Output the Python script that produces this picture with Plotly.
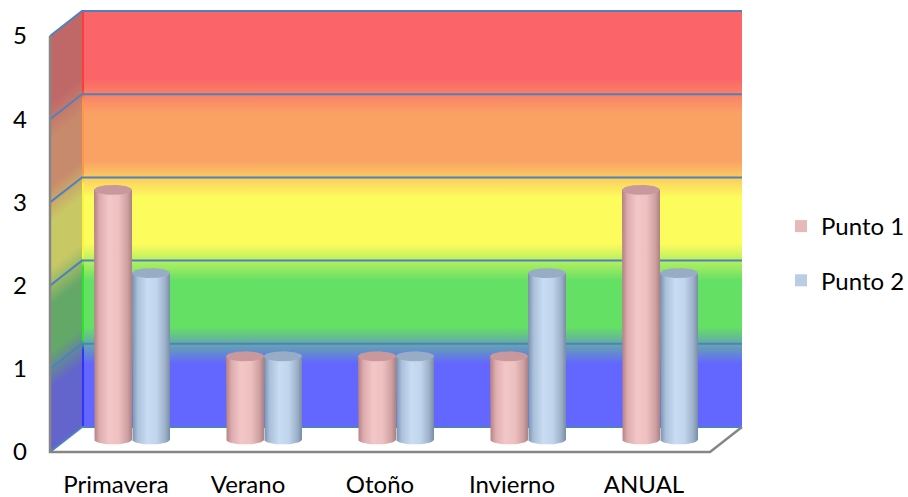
import numpy as np
import plotly.graph_objects as go

# ---- data -------------------------------------------------------------
categorias = ["Primavera", "Verano", "Otoño", "Invierno", "ANUAL"]
punto1 = [3, 1, 1, 1, 3]
punto2 = [2, 1, 1, 2, 2]
niveles = [0, 1, 2, 3, 4, 5]
series = ["Punto 1", "Punto 2"]

# ---- styles -----------------------------------------------------------
colores_fondo = ["rgb(99,102,255)", "rgb(100,224,100)", "rgb(252,252,92)",
                 "rgb(250,162,100)", "rgb(251,100,104)"]
colores_lateral = ["rgb(100,100,205)", "rgb(100,168,104)", "rgb(200,200,100)",
                   "rgb(200,138,108)", "rgb(192,104,104)"]
colores_borde = ["rgb(50,50,255)", "rgb(40,230,40)", "rgb(250,245,60)",
                 "rgb(255,150,70)", "rgb(255,60,60)"]
escala_cil = [
    [(0, "rgb(178,128,132)"), (0.15, "rgb(222,172,175)"), (0.4, "rgb(243,199,199)"),
     (0.65, "rgb(238,192,192)"), (0.88, "rgb(206,160,162)"), (1, "rgb(172,128,130)")],
    [(0, "rgb(122,142,168)"), (0.15, "rgb(170,192,218)"), (0.4, "rgb(200,220,243)"),
     (0.65, "rgb(192,212,236)"), (0.88, "rgb(155,175,200)"), (1, "rgb(120,140,165)")],
]
color_tapa = ["rgb(200,152,156)", "rgb(152,172,198)"]
color_leyenda = ["rgb(230,184,183)", "rgb(185,205,229)"]
AZUL_REJILLA = "rgb(79,129,189)"
GRIS = "rgb(134,134,134)"
FUENTE = dict(family="Lato, Carlito, Calibri, sans-serif", size=24, color="black")

# ---- page geometry (pixels) -------------------------------------------
W, H = 908, 497
ML, MB = 28, 29
UX, UY = 132.0, 83.2          # pixels per category / per unit
X0, Y0 = 50.0, 452.0          # front-left-bottom corner
DX, DY = 32.0 / UX, 25.0 / UY  # depth offset in data units
n = len(categorias)
vmax = niveles[-1]

x_rango = [-0.5 + (ML - X0) / UX, -0.5 + (W - X0) / UX]
y_rango = [(Y0 - (H - MB)) / UY, Y0 / UY]


def escala(cols, lo=0.24, hi=0.2):
    k = len(cols)
    out = []
    for i, c in enumerate(cols):
        a = i + (hi if i > 0 else 0)
        b = i + 1 - (lo if i < k - 1 else 0)
        out.append((a / k, c))
        out.append((b / k, c))
    return out


fig = go.Figure()
comun = dict(mode="lines", hoverinfo="skip", showlegend=False,
             line=dict(width=0, color="rgba(0,0,0,0)"))

# back wall
xl, xr = -0.5 + DX, n - 0.5 + DX
fig.add_trace(go.Scatter(
    x=[xl, xr, xr, xl, xl], y=[DY, DY, vmax + DY, vmax + DY, DY], fill="toself",
    fillgradient=dict(type="vertical", colorscale=escala(colores_fondo),
                      start=DY, stop=vmax + DY), **comun))

# left wall, in thin slanted strips
N = 16
for k in range(N):
    t0, t1 = k / N, (k + 1) / N
    xa, xb = -0.5 + DX * t0, -0.5 + DX * t1 + (0.6 / UX if k < N - 1 else 0)
    oa, ob = DY * t0, DY * t1
    om = (oa + ob) / 2
    fig.add_trace(go.Scatter(
        x=[xa, xb, xb, xa, xa], y=[oa, ob, vmax + ob, vmax + oa, oa], fill="toself",
        fillgradient=dict(type="vertical", colorscale=escala(colores_lateral),
                          start=om, stop=om + vmax), **comun))

# floor
fig.add_trace(go.Scatter(
    x=[-0.5, n - 0.5, n - 0.5 + DX, -0.5 + DX, -0.5], y=[0, 0, DY, DY, 0],
    fill="toself", fillcolor="white", **comun))

# bright edge where the back wall meets the left wall
ew = 2.0 / UX
fig.add_trace(go.Scatter(
    x=[xl, xl + ew, xl + ew, xl, xl], y=[DY, DY, vmax + DY, vmax + DY, DY], fill="toself",
    fillgradient=dict(type="vertical", colorscale=escala(colores_borde, 0.08, 0.05),
                      start=DY, stop=vmax + DY), **comun))

# gridlines on back and side walls
gx, gy = [], []
for v in niveles:
    gx += [-0.5, -0.5 + DX, n - 0.5 + DX, None]
    gy += [v, v + DY, v + DY, None]
fig.add_trace(go.Scatter(x=gx, y=gy, mode="lines", hoverinfo="skip", showlegend=False,
                         line=dict(color=AZUL_REJILLA, width=2)))

# outer frame edges
fig.add_trace(go.Scatter(
    x=[-0.5, -0.5, n - 0.5, n - 0.5 + DX], y=[vmax, 0, 0, DY], mode="lines",
    hoverinfo="skip", showlegend=False, line=dict(color=GRIS, width=2.5)))

# cylinders
rx, ry = 19.0 / UX, 5.0 / UY
base = DY / 2
th_low = np.linspace(np.pi, 2 * np.pi, 40)
th_all = np.linspace(0, 2 * np.pi, 80)
for i in range(n):
    for s, valores in enumerate([punto1, punto2]):
        cx = i + DX / 2 + (s - 0.5) * 2 * rx
        top = valores[i] + base
        bx = [cx - rx, cx - rx] + list(cx + rx * np.cos(th_low)) + [cx + rx, cx - rx]
        by = [top, base] + list(base + ry * np.sin(th_low)) + [top, top]
        fig.add_trace(go.Scatter(
            x=bx, y=by, fill="toself",
            fillgradient=dict(type="horizontal", colorscale=escala_cil[s]), **comun))
        fig.add_trace(go.Scatter(
            x=cx + rx * np.cos(th_all), y=top + ry * np.sin(th_all), fill="toself",
            fillcolor=color_tapa[s], **comun))

# legend entries
for s, nombre in enumerate(series):
    fig.add_trace(go.Scatter(
        x=[None], y=[None], mode="markers", name=nombre, legendgroup=nombre,
        marker=dict(symbol="square", size=12, color=color_leyenda[s])))

fig.update_layout(
    width=W, height=H,
    margin=dict(l=ML, r=0, t=0, b=MB, autoexpand=False),
    paper_bgcolor="white", plot_bgcolor="white",
    font=FUENTE,
    legend=dict(x=(781 - ML) / (W - ML), y=(H - MB - 204) / (H - MB),
                xanchor="left", yanchor="top", traceorder="grouped",
                tracegroupgap=20, bgcolor="rgba(0,0,0,0)", font=FUENTE),
    xaxis=dict(range=x_rango, tickvals=list(range(n)), ticktext=categorias,
               showgrid=False, zeroline=False, showline=False, ticks="",
               tickfont=FUENTE, fixedrange=True, automargin=False),
    yaxis=dict(range=y_rango, tickvals=niveles, showgrid=False, zeroline=False,
               showline=False, ticks="", tickfont=FUENTE, fixedrange=True,
               automargin=False),
)

fig.write_html("out.html")
